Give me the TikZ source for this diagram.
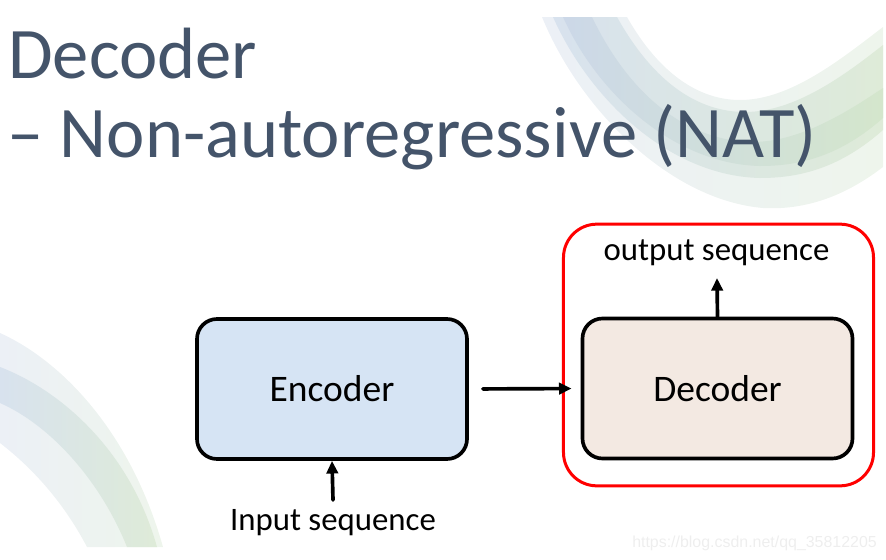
\documentclass[tikz,border=0pt]{standalone}
\usepackage{fontspec}
\setmainfont{Carlito}
\newfontfamily\markfont{Liberation Sans}
\usetikzlibrary{arrows.meta}
\definecolor{titleC}{RGB}{68,84,106}
\definecolor{encFill}{RGB}{214,228,244}
\definecolor{decFill}{RGB}{243,233,226}
\definecolor{frameRed}{RGB}{255,0,0}
\definecolor{swA}{RGB}{236,240,246}
\definecolor{swB}{RGB}{238,245,236}
\definecolor{swC}{RGB}{216,226,238}
\definecolor{swD}{RGB}{222,235,216}
\definecolor{swE}{RGB}{204,216,232}
\definecolor{swF}{RGB}{212,230,204}
\definecolor{markC}{RGB}{238,238,238}

\begin{document}
\begin{tikzpicture}[x=0.03cm, y=-0.03cm, line cap=round,
  >={Triangle[length=0.38cm,width=0.34cm]},
  titletext/.style={text=titleC, inner sep=0pt, font=\fontsize{62}{74}\selectfont},
  block/.style={draw=black, line width=0.11cm, rounded corners=0.6cm, inner sep=0pt,
    minimum width=8.1cm, minimum height=4.2cm, font=\fontsize{32}{38}\selectfont},
  seqtext/.style={inner sep=0pt, font=\fontsize{28}{34}\selectfont},
  natframe/.style={draw=frameRed, line width=0.09cm, rounded corners=1cm,
    minimum width=9.3cm, minimum height=7.85cm},
  flow/.style={->, line width=0.11cm}]
\useasboundingbox (0,0) rectangle (886,560);
% ---------- 背景：装饰弧带 ----------
\begin{scope}
  \clip (0,17) rectangle (883,547);
  % 右上
  \shade[left color=swA, right color=swB] (627,17) .. controls (660,75) and (700,100) .. (740,100) .. controls (790,100) and (840,60) .. (883,27) -- (883,167) .. controls (840,200) and (800,210) .. (763,208) .. controls (670,200) and (580,110) .. (542,17) -- cycle;
  \shade[left color=swC, right color=swD] (617,17) .. controls (655,85) and (700,112) .. (745,112) .. controls (795,112) and (845,75) .. (883,45) -- (883,130) .. controls (840,168) and (800,178) .. (760,178) .. controls (670,176) and (590,100) .. (553,17) -- cycle;
  \shade[left color=swE, right color=swF] (592,17) .. controls (632,100) and (690,140) .. (750,142) .. controls (800,143) and (850,110) .. (883,88) -- (883,118) .. controls (840,156) and (800,166) .. (760,166) .. controls (675,164) and (598,95) .. (563,17) -- cycle;
  % 左下
  \shade[left color=swA, right color=swB] (0,333) .. controls (60,360) and (130,430) .. (163,547) -- (87,547) .. controls (65,505) and (35,470) .. (0,443) -- cycle;
  \shade[left color=swC, right color=swD] (0,367) .. controls (60,390) and (130,450) .. (157,547) -- (127,547) .. controls (100,480) and (50,425) .. (0,403) -- cycle;
\end{scope}
% ---------- 标题 ----------
\node[titletext, anchor=base west] (title1) at (8,78) {Decoder};
\node[titletext, anchor=base west] (title2) at (7,157) {– Non-autoregressive (NAT)};
% ---------- 编码器与解码器 ----------
\node[natframe] (nat) at (718.5,355) {};
\node[block, fill=encFill] (enc) at (332,389) {Encoder};
\node[block, fill=decFill] (dec) at (717.5,388.5) {Decoder};
\node[seqtext, anchor=base] (inseq) at (333,530) {Input sequence};
\node[seqtext, anchor=base] (outseq) at (716.5,260) {output sequence};
\coordinate (intail) at (333,500);
\coordinate (outtip) at (717,278);
% 连接
\draw[flow] (intail) -- (enc.south);
\draw[flow, shorten <=0.42cm, shorten >=0.27cm] (enc.east) -- (dec.west);
\draw[flow] (dec.north) -- (outtip);
% 水印
\node[anchor=base east, inner sep=0pt, text=markC, font=\markfont\fontsize{13.6}{16}\selectfont] (mark) at (877,547) {https://blog.csdn.net/qq\_35812205};
\end{tikzpicture}
\end{document}
